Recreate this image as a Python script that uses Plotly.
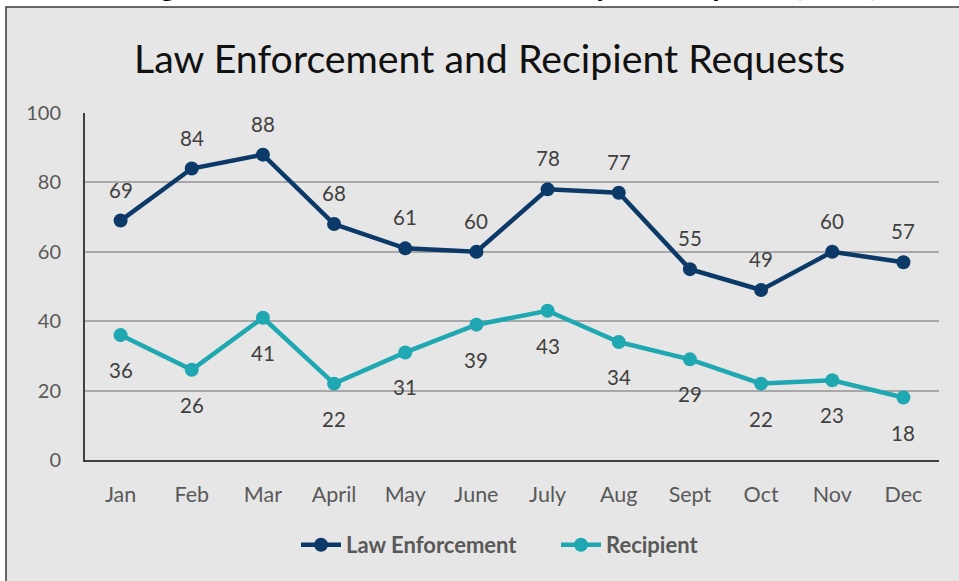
import plotly.graph_objects as go

months = ["Jan", "Feb", "Mar", "April", "May", "June", "July", "Aug", "Sept", "Oct", "Nov", "Dec"]
law_enforcement = [69, 84, 88, 68, 61, 60, 78, 77, 55, 49, 60, 57]
recipient = [36, 26, 41, 22, 31, 39, 43, 34, 29, 22, 23, 18]
y_ticks = [0, 20, 40, 60, 80, 100]

NAVY = "#0b3a68"
TEAL = "#1fa8b2"
FONT = "Lato, Carlito, Calibri, sans-serif"

W, H = 959, 581
L, R, T, B = 85, 20, 113, 121
pw, ph = W - L - R, H - T - B


def px_x(px):
    return (px - L) / pw


def px_y(py):
    return (H - B - py) / ph


fig = go.Figure()
fig.add_trace(go.Scatter(
    x=months, y=law_enforcement, name="Law Enforcement", mode="lines+markers",
    line=dict(color=NAVY, width=4.5), marker=dict(color=NAVY, size=14),
))
fig.add_trace(go.Scatter(
    x=months, y=recipient, name="Recipient", mode="lines+markers",
    line=dict(color=TEAL, width=4.5), marker=dict(color=TEAL, size=14),
))

annotations = []
for m, v in zip(months, law_enforcement):
    annotations.append(dict(x=m, y=v, text=str(v), showarrow=False, yshift=31,
                            font=dict(family=FONT, size=20.5, color="#404040")))
for m, v in zip(months, recipient):
    annotations.append(dict(x=m, y=v, text=str(v), showarrow=False, yshift=-35,
                            font=dict(family=FONT, size=20.5, color="#404040")))

# chart title
annotations.append(dict(xref="paper", yref="paper", x=px_x(489), y=px_y(57),
                        text="Law Enforcement and Recipient Requests", showarrow=False,
                        xanchor="center", yanchor="middle",
                        font=dict(family=FONT, size=39.3, color="#111111")))
# page caption above the chart frame
annotations.append(dict(xref="paper", yref="paper", x=px_x(880), y=px_y(4),
                        text="<b>Figure 2: Law Enforcement and Recipient Requests (2019)</b>",
                        showarrow=False, xanchor="right", yanchor="bottom",
                        font=dict(family=FONT, size=29, color="#000000")))

fig.update_layout(
    width=W, height=H,
    margin=dict(l=L, r=R, t=T, b=B, pad=0),
    paper_bgcolor="white",
    plot_bgcolor="rgba(0,0,0,0)",
    annotations=annotations,
    shapes=[dict(type="rect", xref="paper", yref="paper", layer="below",
                 x0=px_x(6), x1=px_x(975), y0=px_y(595), y1=px_y(7),
                 fillcolor="#e6e6e6", line=dict(color="#3a3a3a", width=1.5))],
    showlegend=True,
    legend=dict(orientation="h", xanchor="center", yanchor="middle",
                x=px_x(556), y=px_y(545), bgcolor="rgba(0,0,0,0)",
                font=dict(family=FONT, size=22, color="#595959", weight="bold"),
                itemwidth=40, entrywidth=205),
    xaxis=dict(
        type="category", range=[-0.5, 11.5], showgrid=False,
        showline=True, linecolor="#404040", linewidth=2,
        ticks="", ticklabelstandoff=14,
        tickfont=dict(family=FONT, size=21.5, color="#595959"),
    ),
    yaxis=dict(
        range=[0, 100], tickvals=y_ticks, showgrid=True, gridcolor="#a8a8a8", gridwidth=1.5,
        showline=True, linecolor="#404040", linewidth=2, zeroline=False,
        ticks="", ticklabelstandoff=18,
        tickfont=dict(family=FONT, size=20, color="#595959"),
    ),
)

fig.write_html("out.html")
